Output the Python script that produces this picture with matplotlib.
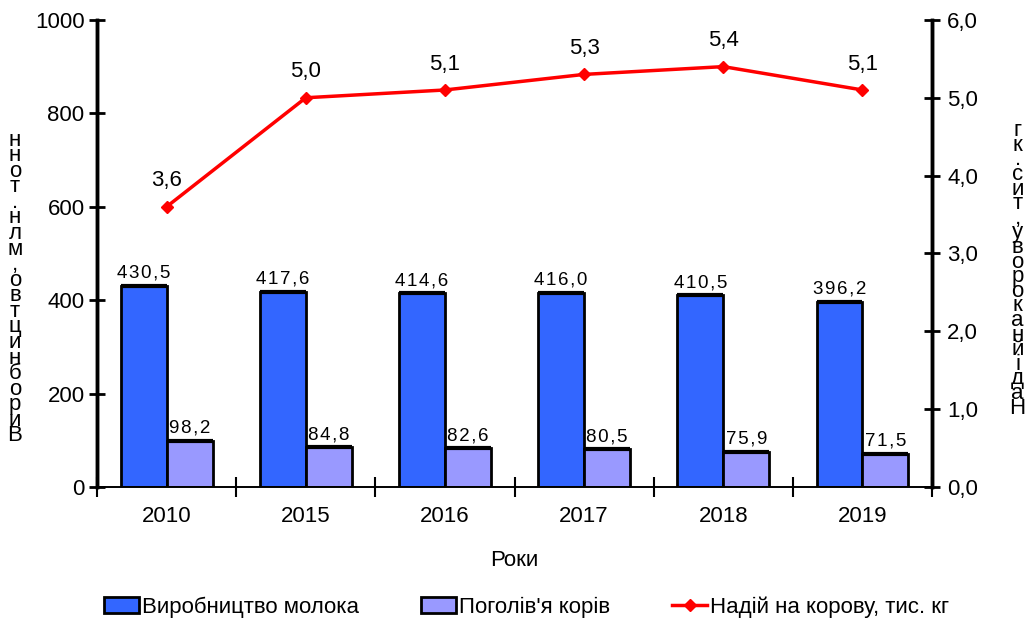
import matplotlib.pyplot as plt
import numpy as np
from matplotlib.patches import Patch
from matplotlib.lines import Line2D

plt.rcParams['font.family'] = ['Liberation Sans', 'DejaVu Sans']

# data
years = ["2010", "2015", "2016", "2017", "2018", "2019"]
milk = [430.5, 417.6, 414.6, 416.0, 410.5, 396.2]
cows = [98.2, 84.8, 82.6, 80.5, 75.9, 71.5]
yield_per_cow = [3.6, 5.0, 5.1, 5.3, 5.4, 5.1]

left_label = "Виробництво,млн.тонн"
right_label = "Надійнакорову,тис.кг"

BLUE = "#3366ff"
LILAC = "#9999ff"
RED = "#ff0000"
FS = 16


def comma(v, fmt="{:.1f}"):
    return fmt.format(v).replace(".", ",")


def spaced(s):
    # the original labels have wide letter spacing
    return "\u200a".join(s)


fig = plt.figure(figsize=(10.3, 6.22), dpi=100)
ax = fig.add_axes([0.0942, 0.217, 0.8107, 0.751])
ax2 = ax.twinx()

x = np.arange(len(years))
w = 0.33
ax.bar(x - w / 2, milk, w, color=BLUE, edgecolor="black", linewidth=2, zorder=2)
ax.bar(x + w / 2, cows, w, color=LILAC, edgecolor="black", linewidth=2, zorder=2)
# heavier top edge like the original
ax.hlines(milk, x - w, x, color="black", linewidth=3, zorder=3)
ax.hlines(cows, x, x + w, color="black", linewidth=3, zorder=3)
for i in range(len(years)):
    ax.annotate(spaced(comma(milk[i])), (x[i] - w / 2, milk[i]), xytext=(0, 3),
                textcoords="offset points", ha="center", va="bottom", fontsize=13.5)
    ax.annotate(spaced(comma(cows[i])), (x[i] + w / 2, cows[i]), xytext=(0, 3),
                textcoords="offset points", ha="center", va="bottom", fontsize=13.5)

ax2.plot(x, yield_per_cow, color=RED, linewidth=2.5, marker="D", markersize=6, zorder=3)
for i in range(len(years)):
    ax2.annotate(comma(yield_per_cow[i]), (x[i], yield_per_cow[i]), xytext=(0, 11),
                 textcoords="offset points", ha="center", va="bottom", fontsize=FS)

ax.set_xlim(-0.5, len(years) - 0.5)
ax.set_ylim(0, 1000)
ax2.set_ylim(0, 6)
ax.set_yticks(range(0, 1001, 200))
ax2.set_yticks(range(0, 7))
ax2.set_yticklabels([comma(v) for v in range(0, 7)])

ax.set_xticks(x)
ax.set_xticklabels(years)
ax.set_xticks(np.arange(-0.5, len(years)), minor=True)
ax.tick_params(axis="x", which="major", length=0, pad=14, labelsize=FS)
ax.tick_params(axis="x", which="minor", direction="inout", length=14, width=1.5)
ax.tick_params(axis="y", direction="inout", length=12, width=2, labelsize=FS, pad=3)
ax2.tick_params(axis="y", direction="inout", length=12, width=2, labelsize=FS, pad=5)

for a in (ax, ax2):
    a.spines["top"].set_visible(False)
    a.spines["left"].set_linewidth(2.5)
    a.spines["right"].set_linewidth(2.5)
    a.spines["bottom"].set_linewidth(1.2)

ax.set_xlabel("Роки", fontsize=FS, labelpad=16)

# vertical stacked axis labels (characters upright, read bottom to top)
fig.text(0.0146, 0.537, "\n".join(reversed(left_label)), ha="center", va="center",
         fontsize=FS, linespacing=0.66)
fig.text(0.988, 0.567, "\n".join(reversed(right_label)), ha="center", va="center",
         fontsize=FS, linespacing=0.6)

handles = [
    Patch(facecolor=BLUE, edgecolor="black", linewidth=2),
    Patch(facecolor=LILAC, edgecolor="black", linewidth=2),
    Line2D([0], [0], color=RED, linewidth=2.5, marker="D", markersize=6),
]
labels = ["Виробництво молока", "Поголів'я корів", "Надій на корову, тис. кг"]
fig.legend(handles, labels, loc="lower center", bbox_to_anchor=(0.511, -0.025), ncol=3,
           frameon=False, fontsize=FS, handlelength=1.6, handletextpad=0.1,
           columnspacing=2.8)

fig.savefig("out.png", dpi=100)
